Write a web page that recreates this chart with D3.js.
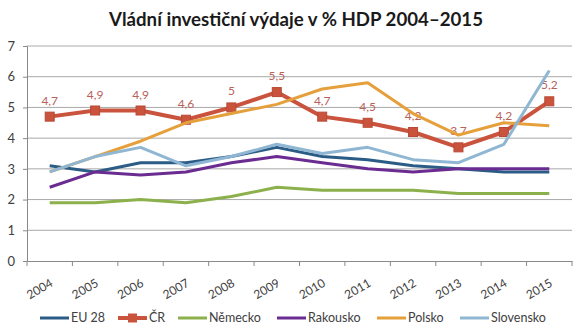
<!DOCTYPE html>
<html><head><meta charset="utf-8">
<script src="https://cdn.jsdelivr.net/npm/d3@7"></script>
<style>body{margin:0;background:#fff}svg{display:block}</style>
</head><body><svg id="c" width="584" height="332"></svg>
<script>
const title = "Vládní investiční výdaje v % HDP 2004–2015";
const years = ["2004","2005","2006","2007","2008","2009","2010","2011","2012","2013","2014","2015"];
const yTicks = [0,1,2,3,4,5,6,7];
const seriesNames = ["EU 28","ČR","Německo","Rakousko","Polsko","Slovensko"];
const eu28      = [3.1,2.9,3.2,3.2,3.4,3.7,3.4,3.3,3.1,3.0,2.9,2.9];
const cr        = [4.7,4.9,4.9,4.6,5.0,5.5,4.7,4.5,4.2,3.7,4.2,5.2];
const nemecko   = [1.9,1.9,2.0,1.9,2.1,2.4,2.3,2.3,2.3,2.2,2.2,2.2];
const rakousko  = [2.4,2.9,2.8,2.9,3.2,3.4,3.2,3.0,2.9,3.0,3.0,3.0];
const polsko    = [2.9,3.4,3.9,4.5,4.8,5.1,5.6,5.8,4.8,4.1,4.5,4.4];
const slovensko = [2.9,3.4,3.7,3.1,3.4,3.8,3.5,3.7,3.3,3.2,3.8,6.2];
const crLabels  = ["4,7","4,9","4,9","4,6","5","5,5","4,7","4,5","4,2","3,7","4,2","5,2"];

const colors = ["#2b5c86","#c9533d","#8cb04c","#6a2c91","#e5a03c","#8fb6d2"];
const widths = [3,4,3,3,3,3];
const seriesValues = [eu28, cr, nemecko, rakousko, polsko, slovensko];

const svg = d3.select("#c");
const font = "Lato, 'Open Sans', sans-serif";
const x = d3.scaleBand().domain(years).range([27,572]);
const y = d3.scaleLinear().domain([0,7]).range([261,46]);
const cx = d => x(d) + x.bandwidth()/2;

svg.append("text").attr("x",296).attr("y",26).attr("text-anchor","middle")
  .attr("font-family",font).attr("font-weight","bold").attr("font-size",18)
  .attr("fill","#1a1a1a").attr("textLength",374).attr("lengthAdjust","spacingAndGlyphs").text(title);

// gridlines
svg.append("g").selectAll("line").data(yTicks.filter(t=>t>0)).join("line")
  .attr("x1",27).attr("x2",572).attr("y1",d=>y(d)).attr("y2",d=>y(d))
  .attr("stroke","#a9a9a9").attr("stroke-width",1);

// y axis
const ya = svg.append("g").attr("transform","translate(27,0)")
  .call(d3.axisLeft(y).tickValues(yTicks).tickSize(4).tickPadding(8).tickFormat(d3.format("d")));
ya.select(".domain").attr("stroke","#8a8a8a");
ya.selectAll(".tick line").attr("stroke","#8a8a8a");
ya.selectAll("text").attr("font-family",font).attr("font-size",13).attr("fill","#404040");

// x axis
const xa = svg.append("g").attr("transform","translate(0,261)")
  .call(d3.axisBottom(x).tickSize(0).tickPadding(0));
xa.select(".domain").attr("stroke","#8a8a8a");
xa.selectAll(".tick text").attr("font-family",font).attr("font-size",12).attr("fill","#404040")
  .attr("text-anchor","end").attr("transform","translate(2,21) rotate(-30)").attr("dy","0.35em").attr("y",0);
// boundary ticks
const bounds = years.map(d=>x(d)).concat([572]);
svg.append("g").selectAll("line").data(bounds).join("line")
  .attr("x1",d=>d).attr("x2",d=>d).attr("y1",261).attr("y2",266)
  .attr("stroke","#8a8a8a");

// lines
const line = d3.line().x((d,i)=>cx(years[i])).y(d=>y(d));
seriesValues.forEach((vals,k)=>{
  svg.append("path").datum(vals).attr("d",line).attr("fill","none")
    .attr("stroke",colors[k]).attr("stroke-width",widths[k]).attr("stroke-linejoin","round");
  if(k===1){
    svg.append("g").selectAll("rect").data(vals).join("rect")
      .attr("x",(d,i)=>cx(years[i])-4.5).attr("y",d=>y(d)-4.5).attr("width",9).attr("height",9)
      .attr("fill",colors[1]).attr("stroke","#b84a35").attr("stroke-width",1);
    svg.append("g").selectAll("text").data(vals).join("text")
      .attr("x",(d,i)=>cx(years[i])).attr("y",d=>y(d)-12).attr("text-anchor","middle")
      .attr("font-family",font).attr("font-size",12).attr("fill","#b8625a")
      .text((d,i)=>crLabels[i]);
  }
});

// legend
const legX = [40,118,178,277,377,460];
const lg = svg.append("g");
seriesNames.forEach((n,k)=>{
  const g = lg.append("g").attr("transform",`translate(${legX[k]},318)`);
  g.append("line").attr("x1",0).attr("x2",29).attr("y1",0).attr("y2",0)
    .attr("stroke",colors[k]).attr("stroke-width",widths[k]);
  if(k===1) g.append("rect").attr("x",10).attr("y",-4.5).attr("width",9).attr("height",9).attr("fill",colors[1]);
  g.append("text").attr("x",31).attr("y",0).attr("dy","0.35em").attr("font-family",font)
    .attr("font-size",12.5).attr("fill","#404040").text(n);
});
</script></body></html>
